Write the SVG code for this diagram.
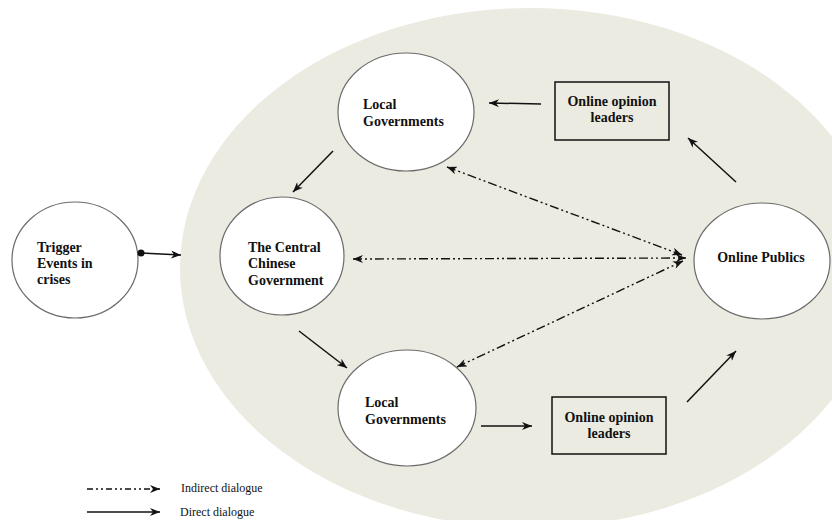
<svg xmlns="http://www.w3.org/2000/svg" width="832" height="520" viewBox="0 0 832 520">
<defs>
<style>
.node{fill:#fff;stroke:#6b6b6b;stroke-width:1.2}
.box{fill:none;stroke:#111;stroke-width:1.5}
.lbl{font-family:"Liberation Serif","Times New Roman",serif;font-weight:bold;font-size:14px;fill:#111}
.leg{font-family:"Liberation Serif","Times New Roman",serif;font-size:12px;fill:#111}
.solid{stroke:#111;stroke-width:1.5;fill:none;marker-end:url(#ah)}
.dash{stroke:#111;stroke-width:1.4;fill:none;stroke-dasharray:9 3 2 3 2 3;marker-end:url(#ah);marker-start:url(#ahs)}
</style>
<marker id="ah" viewBox="0 0 10 8" refX="10" refY="4" markerWidth="10" markerHeight="8" markerUnits="userSpaceOnUse" orient="auto">
<path d="M0,0 L10,4 L0,8 L3,4 z" fill="#111"/>
</marker>
<marker id="ahs" viewBox="0 0 10 8" refX="0" refY="4" markerWidth="10" markerHeight="8" markerUnits="userSpaceOnUse" orient="auto">
<path d="M10,0 L0,4 L10,8 L7,4 z" fill="#111"/>
</marker>
</defs>
<ellipse id="background" cx="530" cy="268" rx="350" ry="260" fill="#ecebe1"/>
<g id="trigger">
<ellipse class="node" cx="75" cy="260" rx="63" ry="58"/>
<text class="lbl" x="37" y="252">Trigger</text>
<text class="lbl" x="37" y="268">Events in</text>
<text class="lbl" x="37" y="284">crises</text>
</g>
<g id="local-top">
<ellipse class="node" cx="406" cy="112" rx="68" ry="59"/>
<text class="lbl" x="363" y="109">Local</text>
<text class="lbl" x="363" y="126">Governments</text>
</g>
<g id="central">
<ellipse class="node" cx="282" cy="256" rx="62" ry="59"/>
<text class="lbl" x="248" y="252">The Central</text>
<text class="lbl" x="248" y="268">Chinese</text>
<text class="lbl" x="248" y="285">Government</text>
</g>
<g id="local-bottom">
<ellipse class="node" cx="407" cy="408" rx="69" ry="58"/>
<text class="lbl" x="365" y="407">Local</text>
<text class="lbl" x="365" y="424">Governments</text>
</g>
<g id="online-publics">
<ellipse class="node" cx="762" cy="261" rx="68" ry="58"/>
<text class="lbl" x="761" y="262" text-anchor="middle">Online Publics</text>
</g>
<g id="leaders-top">
<rect class="box" x="555" y="82" width="114" height="58"/>
<text class="lbl" x="612" y="106" text-anchor="middle">Online opinion</text>
<text class="lbl" x="612" y="122" text-anchor="middle">leaders</text>
</g>
<g id="leaders-bottom">
<rect class="box" x="552" y="397" width="114" height="57"/>
<text class="lbl" x="609" y="422" text-anchor="middle">Online opinion</text>
<text class="lbl" x="609" y="438" text-anchor="middle">leaders</text>
</g>
<g id="connectors">
<circle cx="141" cy="253" r="3.5" fill="#111"/>
<line class="solid" x1="141" y1="253" x2="181" y2="255"/>
<line class="solid" x1="541" y1="104" x2="489" y2="103"/>
<line class="solid" x1="333" y1="151" x2="293" y2="192"/>
<line class="solid" x1="299" y1="331" x2="347" y2="368"/>
<line class="solid" x1="481" y1="426" x2="532" y2="426"/>
<line class="solid" x1="687" y1="402" x2="736" y2="351"/>
<line class="solid" x1="736" y1="182" x2="688" y2="138"/>
<line class="dash" x1="447" y1="167" x2="682" y2="255"/>
<line class="dash" x1="353" y1="259" x2="686" y2="258"/>
<line class="dash" x1="457" y1="367" x2="683" y2="261"/>
</g>
<g id="legend">
<line stroke="#111" stroke-width="1.4" stroke-dasharray="6 3 2 3 2 3" x1="87" y1="489" x2="160" y2="489" marker-end="url(#ah)"/>
<line class="solid" x1="87" y1="512" x2="160" y2="512"/>
<text class="leg" x="181" y="492">Indirect dialogue</text>
<text class="leg" x="180" y="516">Direct dialogue</text>
</g>
</svg>
